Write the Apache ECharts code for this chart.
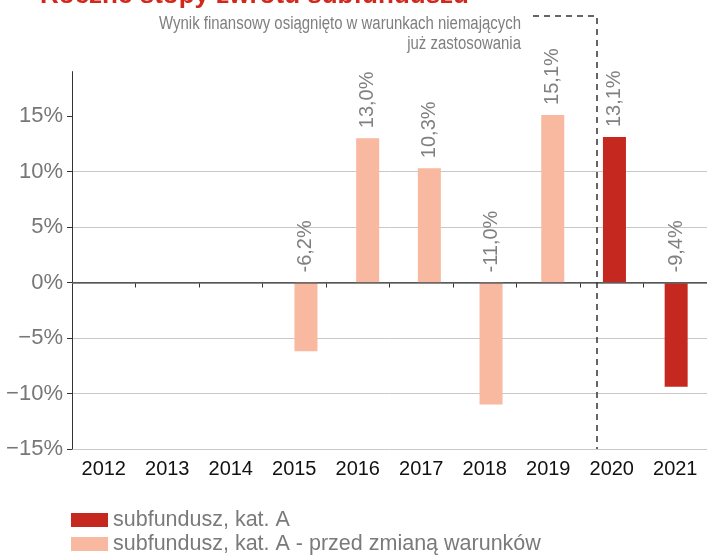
<!DOCTYPE html>
<html>
<head>
<meta charset="utf-8">
<script src="https://cdn.jsdelivr.net/npm/echarts@6/dist/echarts.min.js"></script>
<style>
html,body{margin:0;padding:0;background:#fff;}
#chart{width:707px;height:557px;}
</style>
</head>
<body>
<div id="chart"></div>
<script>
// ---- data ----
const categories = ['2012','2013','2014','2015','2016','2017','2018','2019','2020','2021'];
const seriesNames = ['subfundusz, kat. A', 'subfundusz, kat. A - przed zmianą warunków'];
const valuesA = [null, null, null, null, null, null, null, null, 13.1, -9.4];
const valuesBefore = [null, null, null, -6.2, 13.0, 10.3, -11.0, 15.1, null, null];
const yTicks = [-15, -10, -5, 0, 5, 10, 15];
const titleText = 'Roczne stopy zwrotu subfunduszu';
const noteLines = ['Wynik finansowy osiągnięto w warunkach niemających', 'już zastosowania'];

const FONT = "'Liberation Sans', Arial, Helvetica, sans-serif";
const RED = '#c4281f';
const SALMON = '#f9b9a1';
const Y_MIN = -15, Y_MAX = 19;

const fmt = v => v.toFixed(1).replace('.', ',') + '%';

const chart = echarts.init(document.getElementById('chart'));

const labelCfg = {
  show: true,
  position: 'top',
  rotate: 90,
  distance: 10,
  align: 'left',
  verticalAlign: 'middle',
  color: '#808080',
  fontFamily: FONT,
  fontSize: 20,
  formatter: p => fmt(p.value)
};

const noteStyle = { fill: '#7f7f7f', align: 'right', verticalAlign: 'middle',
  font: "18px " + FONT };

chart.setOption({
  animation: false,
  backgroundColor: '#fff',
  grid: [
    { left: 72, right: -7, top: 71.6, bottom: 108, containLabel: false },
    // bars in the source are spaced slightly tighter than the category labels
    { left: 90, right: -3.7, top: 71.6, bottom: 108, containLabel: false }
  ],
  legend: {
    orient: 'vertical',
    left: 71,
    top: 509,
    padding: 0,
    itemWidth: 37,
    itemHeight: 14,
    itemGap: 2,
    icon: 'rect',
    textStyle: { color: '#7a7a7a', fontFamily: FONT, fontSize: 21.5, lineHeight: 22 },
    data: seriesNames
  },
  xAxis: [
    {
      type: 'category',
      gridIndex: 0,
      data: categories,
      axisLine: { show: true, lineStyle: { color: '#333', width: 1 } },
      axisTick: { show: true, length: 5, lineStyle: { color: '#333' } },
      axisLabel: { color: '#111', fontFamily: FONT, fontSize: 20, margin: 10 }
    },
    {
      type: 'category',
      gridIndex: 1,
      data: categories,
      show: false
    }
  ],
  yAxis: [
    {
      type: 'value',
      gridIndex: 0,
      min: Y_MIN,
      max: Y_MAX,
      interval: 5,
      axisLine: { show: true, lineStyle: { color: '#333', width: 1 } },
      axisTick: { show: true, length: 5, lineStyle: { color: '#333' }, customValues: yTicks },
      axisLabel: { color: '#777', fontFamily: FONT, fontSize: 22, margin: 9, customValues: yTicks,
        formatter: v => (v < 0 ? '\u2212' + Math.abs(v) : v) + '%' },
      splitLine: { show: true, showMaxLine: false, lineStyle: { color: '#c8c8c8', width: 1 } }
    },
    {
      type: 'value',
      gridIndex: 1,
      min: Y_MIN,
      max: Y_MAX,
      show: false,
      splitLine: { show: false }
    }
  ],
  series: [
    {
      name: 'zero',
      type: 'bar',
      xAxisIndex: 0,
      yAxisIndex: 0,
      data: [],
      markLine: {
        silent: true,
        symbol: 'none',
        label: { show: false },
        lineStyle: { color: '#666', width: 1.5, type: 'solid' },
        data: [{ yAxis: 0 }]
      }
    },
    {
      name: seriesNames[0],
      type: 'bar',
      xAxisIndex: 1,
      yAxisIndex: 1,
      data: valuesA,
      barWidth: 23,
      barGap: '-100%',
      itemStyle: { color: RED },
      label: labelCfg
    },
    {
      name: seriesNames[1],
      type: 'bar',
      xAxisIndex: 1,
      yAxisIndex: 1,
      data: valuesBefore,
      barWidth: 23,
      barGap: '-100%',
      itemStyle: { color: SALMON },
      label: labelCfg
    }
  ],
  graphic: [
    {
      type: 'text',
      left: 40,
      top: -17,
      style: { text: titleText, fill: '#d2281c', font: "bold 26px " + FONT }
    },
    {
      type: 'text',
      x: 521,
      y: 24,
      scaleX: 0.83,
      style: Object.assign({ text: noteLines[0] }, noteStyle)
    },
    {
      type: 'text',
      x: 521,
      y: 44,
      scaleX: 0.83,
      style: Object.assign({ text: noteLines[1] }, noteStyle)
    },
    {
      type: 'polyline',
      shape: { points: [[533, 16], [597, 16], [597, 449]] },
      style: { stroke: '#333', lineWidth: 1.5, lineDash: [6, 5], fill: null },
      z: 10
    }
  ]
});
</script>
</body>
</html>
